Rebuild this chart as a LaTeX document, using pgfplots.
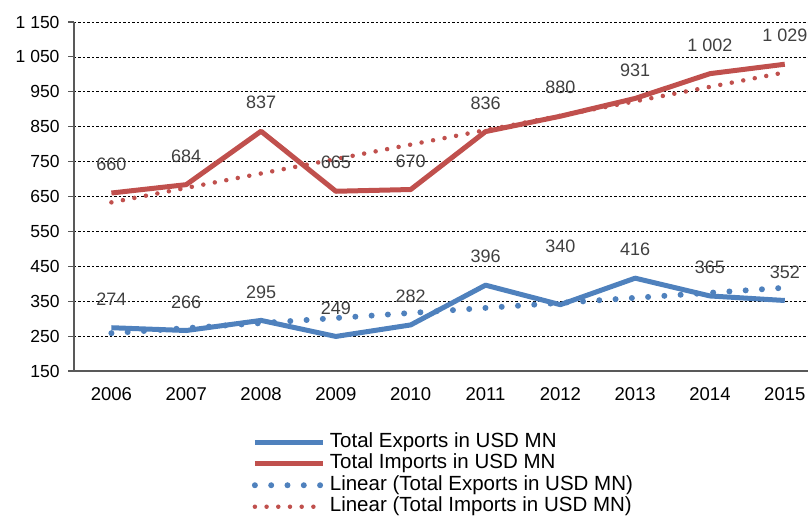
\documentclass[border=0pt]{standalone}
\usepackage{fontspec}
\setmainfont{Liberation Sans}
\usepackage{pgfplots}
\pgfplotsset{compat=1.18}
\usepackage{pgfplotstable}
\usetikzlibrary{calc}
\definecolor{expblue}{HTML}{4F81BD}
\definecolor{impred}{HTML}{C0504D}
\definecolor{lblgray}{HTML}{404040}
\definecolor{axgray}{HTML}{595959}

\pgfplotstableread[col sep=comma]{
year,val,lab,off
2006,274,274,28.5
2007,266,266,28.5
2008,295,295,28.5
2009,249,249,28.5
2010,282,282,28.5
2011,396,396,28.5
2012,340,340,58
2013,416,416,28.5
2014,365,365,28.5
2015,352,352,28.5
}\exports

\pgfplotstableread[col sep=comma]{
year,val,lab,off
2006,660,660,28.5
2007,684,684,28.5
2008,837,837,28.5
2009,665,665,28.5
2010,670,670,28.5
2011,836,836,28.5
2012,880,880,28.5
2013,931,931,28.5
2014,1002,1 002,28.5
2015,1029,1 029,28.5
}\imports

\begin{document}
\begin{tikzpicture}
\begin{axis}[
  scale only axis, width=734pt, height=349pt,
  xmin=2005.5, xmax=2015.31, ymin=150, ymax=1150,
  axis x line*=bottom, axis y line*=left,
  axis line style={axgray, line width=1.5pt, -},
  xtick={2006,2007,2008,2009,2010,2011,2012,2013,2014,2015},
  xticklabels={2006,2007,2008,2009,2010,2011,2012,2013,2014,2015},
  x tick label style={font=\fontsize{18.5}{20}\selectfont, text=black, yshift=-7pt},
  ytick={150,250,350,450,550,650,750,850,950,1050,1150},
  yticklabels={150,250,350,450,550,650,750,850,950,1 050,1 150},
  y tick label style={font=\fontsize{17.5}{20}\selectfont, text=black, xshift=-5pt},
  ymajorgrids,
  major grid style={black, line width=0.7pt, dash pattern=on 2.5pt off 2pt},
  tick align=outside, major tick length=6pt,
  major x tick style={draw=none},
  major y tick style={axgray, line width=1.2pt},
  clip=false,
  legend cell align=left,
  legend style={draw=none, fill=none, at={(0.238,-0.167)}, anchor=north west,
    font=\fontsize{20.5}{22}\selectfont,
    nodes={inner sep=1pt, text height=15pt, text depth=4.5pt},
    column sep=3pt},
  legend image code/.code={\draw[#1] (0pt,0pt) -- (68pt,0pt);},
]
\addplot[expblue, line width=5pt, line join=round] table[x=year, y=val] {\exports};
\addlegendentry{Total Exports in USD MN}
\addplot[impred, line width=5pt, line join=round] table[x=year, y=val] {\imports};
\addlegendentry{Total Imports in USD MN}
\addplot[expblue, line width=6pt, line cap=round, dash pattern=on 0pt off 16.3pt] coordinates {(2006,258.4) (2015,388.6)};
\addlegendentry{Linear (Total Exports in USD MN)}
\addplot[impred, line width=4.5pt, line cap=round, dash pattern=on 0pt off 11.7pt] coordinates {(2006,633.2) (2015,1005.6)};
\addlegendentry{Linear (Total Imports in USD MN)}

\addplot[draw=none, forget plot, nodes near coords, point meta=explicit symbolic,
  visualization depends on={\thisrow{off} \as \myoff},
  every node near coord/.append style={anchor=center, yshift=\myoff pt, text=lblgray, font=\fontsize{18}{20}\selectfont, inner sep=0pt}]
  table[x=year, y=val, meta=lab] {\exports};
\addplot[draw=none, forget plot, nodes near coords, point meta=explicit symbolic,
  visualization depends on={\thisrow{off} \as \myoff},
  every node near coord/.append style={anchor=center, yshift=\myoff pt, text=lblgray, font=\fontsize{18}{20}\selectfont, inner sep=0pt}]
  table[x=year, y=val, meta=lab] {\imports};

\coordinate (BL) at (rel axis cs:0,0);
\coordinate (TR) at (rel axis cs:1,1);
\end{axis}
\pgfresetboundingbox
\path ($(BL)+(-74pt,-145pt)$) rectangle ($(TR)+(0pt,22pt)$);
\end{tikzpicture}
\end{document}
